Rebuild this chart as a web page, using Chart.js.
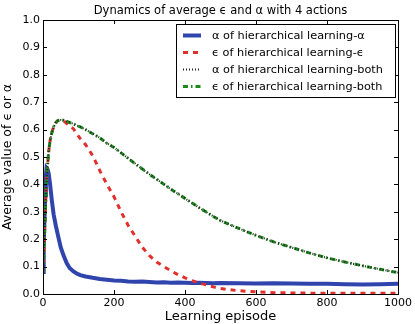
<!DOCTYPE html>
<html>
<head>
<meta charset="utf-8">
<script src="https://cdn.jsdelivr.net/npm/chart.js@4"></script>
<style>
  html, body { margin: 0; padding: 0; background: #fff; }
  #wrap { width: 415px; height: 324px; position: relative; }
</style>
</head>
<body>
<div id="wrap"><canvas id="c" width="415" height="324"></canvas></div>
<script>
// Learning episodes at which the averages were sampled
const episodes = [0,2,4,6,8,10,13,16,20,25,30,36,42,50,58,67,75,85,95,105,120,140,160,180,200,220,240,260,280,300,320,340,360,380,400,420,440,460,480,500,550,600,650,700,750,800,850,900,950,1000];

// alpha of hierarchical learning-alpha
const alphaHierAlpha = [0.08,0.17,0.27,0.36,0.43,0.46,0.455,0.44,0.40,0.34,0.29,0.25,0.215,0.17,0.14,0.112,0.095,0.083,0.075,0.069,0.064,0.059,0.055,0.052,0.049,0.048,0.046,0.045,0.046,0.044,0.042,0.043,0.041,0.042,0.041,0.040,0.041,0.040,0.039,0.040,0.039,0.038,0.039,0.038,0.037,0.037,0.036,0.035,0.036,0.037];

// epsilon of hierarchical learning-epsilon
const epsHierEps = [0.08,0.14,0.21,0.28,0.35,0.41,0.47,0.52,0.56,0.59,0.61,0.625,0.633,0.635,0.632,0.622,0.612,0.604,0.585,0.567,0.545,0.505,0.45,0.40,0.355,0.30,0.25,0.21,0.17,0.14,0.117,0.10,0.085,0.071,0.059,0.049,0.040,0.033,0.026,0.020,0.012,0.008,0.005,0.004,0.003,0.003,0.003,0.003,0.003,0.003];

// alpha of hierarchical learning-both
const alphaHierBoth = [0.08,0.14,0.21,0.28,0.35,0.41,0.47,0.52,0.56,0.59,0.61,0.625,0.633,0.635,0.634,0.630,0.626,0.621,0.615,0.610,0.600,0.585,0.570,0.550,0.535,0.515,0.495,0.476,0.456,0.437,0.419,0.401,0.383,0.366,0.349,0.332,0.315,0.299,0.283,0.268,0.240,0.214,0.190,0.170,0.150,0.132,0.117,0.103,0.090,0.078];

// epsilon of hierarchical learning-both
const epsHierBoth = [0.08,0.14,0.21,0.28,0.35,0.41,0.47,0.52,0.56,0.59,0.61,0.625,0.633,0.635,0.634,0.630,0.626,0.621,0.615,0.610,0.600,0.585,0.570,0.550,0.535,0.515,0.495,0.475,0.456,0.437,0.419,0.401,0.383,0.366,0.349,0.332,0.315,0.299,0.283,0.268,0.240,0.214,0.190,0.170,0.150,0.132,0.117,0.103,0.090,0.078];

const xTicks = [0, 200, 400, 600, 800, 1000];
const yTicks = [0.0, 0.1, 0.2, 0.3, 0.4, 0.5, 0.6, 0.7, 0.8, 0.9, 1.0];

const titleText = 'Dynamics of average \u03F5 and \u03B1 with 4 actions';
const xTitle = 'Learning episode';
const yTitle = 'Average value of \u03F5 or \u03B1';
const seriesLabels = [
  '\u03B1 of hierarchical learning-\u03B1',
  '\u03F5 of hierarchical learning-\u03F5',
  '\u03B1 of hierarchical learning-both',
  '\u03F5 of hierarchical learning-both'
];

const FONT = "'DejaVu Sans', sans-serif";
const toPts = (ys) => ys.map((y, i) => ({ x: episodes[i], y }));

const styles = [
  { color: '#2f45ad', width: 4, dash: [] },
  { color: '#e0302c', width: 3, dash: [5, 5] },
  { color: '#222222', width: 2, dash: [1, 2] },
  { color: '#1b8a1b', width: 3, dash: [5, 3, 1.5, 3] }
];

const datasets = [alphaHierAlpha, epsHierEps, alphaHierBoth, epsHierBoth].map((ys, i) => ({
  label: seriesLabels[i],
  data: toPts(ys),
  borderColor: styles[i].color,
  borderWidth: styles[i].width,
  borderDash: styles[i].dash,
  pointRadius: 0,
  tension: 0,
  fill: false,
  order: [3, 2, 0, 1][i]
}));

// frame, inward ticks, title and legend drawn on top of the plot
const decorations = {
  id: 'decorations',
  afterDatasetsDraw(chart) {
    const { ctx, chartArea: a, scales } = chart;
    ctx.save();
    ctx.strokeStyle = '#000';
    ctx.lineWidth = 1;
    ctx.setLineDash([]);
    ctx.strokeRect(Math.round(a.left) + 0.5, Math.round(a.top) + 0.5,
                   Math.round(a.right - a.left), Math.round(a.bottom - a.top));
    const tl = 4;
    ctx.beginPath();
    xTicks.forEach(v => {
      const x = Math.round(scales.x.getPixelForValue(v)) + 0.5;
      ctx.moveTo(x, a.bottom); ctx.lineTo(x, a.bottom - tl);
      ctx.moveTo(x, a.top); ctx.lineTo(x, a.top + tl);
    });
    yTicks.forEach(v => {
      const y = Math.round(scales.y.getPixelForValue(v)) + 0.5;
      ctx.moveTo(a.left, y); ctx.lineTo(a.left + tl, y);
      ctx.moveTo(a.right, y); ctx.lineTo(a.right - tl, y);
    });
    ctx.stroke();

    // title
    ctx.fillStyle = '#000';
    ctx.font = '11.5px ' + FONT;
    ctx.textAlign = 'center';
    ctx.textBaseline = 'middle';
    ctx.fillText(titleText, (a.left + a.right) / 2, 11);

    // legend
    const bx = 176, by = 24, bw = 219, bh = 73;
    ctx.fillStyle = '#fff';
    ctx.fillRect(bx, by, bw, bh);
    ctx.strokeStyle = '#000';
    ctx.lineWidth = 1;
    ctx.strokeRect(bx + 0.5, by + 0.5, bw, bh);
    ctx.font = '11.3px ' + FONT;
    ctx.textAlign = 'left';
    seriesLabels.forEach((lab, i) => {
      const y = by + 11.5 + i * 17;
      const s = styles[i];
      ctx.strokeStyle = s.color;
      ctx.lineWidth = s.width;
      ctx.setLineDash(s.dash);
      ctx.beginPath();
      ctx.moveTo(183, y); ctx.lineTo(201, y);
      ctx.stroke();
      ctx.setLineDash([]);
      ctx.fillStyle = '#000';
      ctx.fillText(lab, 212, y + 0.5);
    });
    ctx.restore();
  }
};

new Chart(document.getElementById('c'), {
  type: 'line',
  data: { datasets },
  options: {
    responsive: false,
    animation: false,
    devicePixelRatio: 1,
    layout: { padding: { left: 0, right: 15, top: 20, bottom: 0 } },
    plugins: { legend: { display: false }, tooltip: { enabled: false }, title: { display: false } },
    scales: {
      x: {
        type: 'linear',
        min: 0, max: 1000,
        afterBuildTicks: (s) => { s.ticks = xTicks.map(v => ({ value: v })); },
        afterFit: (s) => { s.height = 30; },
        grid: { display: false, drawTicks: false },
        border: { display: false },
        ticks: { color: '#000', font: { family: FONT, size: 11 }, padding: 3, maxRotation: 0,
                 callback: (v) => String(v) },
        title: { display: true, text: xTitle, color: '#000', font: { family: FONT, size: 13 },
                 padding: { top: 0, bottom: 0 } }
      },
      y: {
        type: 'linear',
        min: 0, max: 1,
        afterBuildTicks: (s) => { s.ticks = yTicks.map(v => ({ value: v })); },
        afterFit: (s) => { s.width = 43; },
        grid: { display: false, drawTicks: false },
        border: { display: false },
        ticks: { color: '#000', font: { family: FONT, size: 11 }, padding: 3,
                 callback: (v) => Number(v).toFixed(1) },
        title: { display: true, text: yTitle, color: '#000', font: { family: FONT, size: 12.5 },
                 padding: { top: 0, bottom: 0 } }
      }
    }
  },
  plugins: [decorations]
});
</script>
</body>
</html>
